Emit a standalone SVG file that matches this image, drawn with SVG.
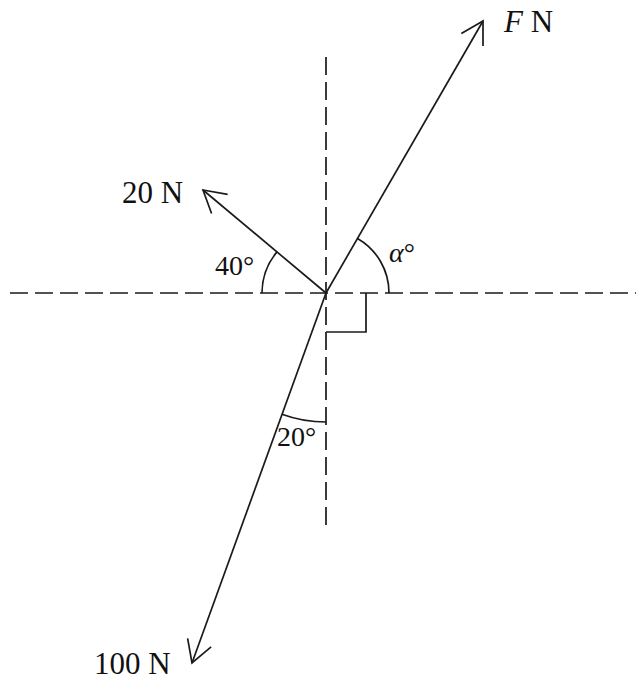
<svg xmlns="http://www.w3.org/2000/svg" width="636" height="680" viewBox="0 0 636 680">
<style>
.ln{stroke:#1a1a1a;stroke-width:1.7;fill:none}
.dash{stroke:#1a1a1a;stroke-width:1.7;fill:none;stroke-dasharray:18 7}
.lbl{font-family:"Liberation Serif","Times New Roman",serif;font-size:31px;fill:#111}
.ang{font-family:"Liberation Serif","Times New Roman",serif;font-size:28px;fill:#111}
</style>
<defs>
<marker id="arr" markerUnits="userSpaceOnUse" markerWidth="60" markerHeight="60" viewBox="-30 -30 60 60" refX="0" refY="0" orient="auto" overflow="visible">
<path d="M-21.65,-12.5 L0,0 L-21.65,12.5" fill="none" stroke="#1a1a1a" stroke-width="1.7"/>
</marker>
</defs>
<g id="axes">
<line class="dash" x1="10" y1="293" x2="636" y2="293"/>
<line class="dash" x1="326" y1="57" x2="326" y2="528"/>
</g>
<g id="connectors">
<line id="forceF" class="ln" x1="326" y1="293" x2="483" y2="21" marker-end="url(#arr)"/>
<line id="force20" class="ln" x1="326" y1="293" x2="203" y2="190" marker-end="url(#arr)"/>
<line id="force100" class="ln" x1="326" y1="293" x2="192" y2="663" marker-end="url(#arr)"/>
</g>
<g id="angles">
<path class="ln" d="M262,293 A64,64 0 0 1 277,251.9"/>
<path class="ln" d="M389,293 A63,63 0 0 0 357.5,238.4"/>
<path class="ln" d="M326,422 A129,129 0 0 1 281.9,414.2"/>
<path class="ln" d="M366,293 L366,332 L326,332"/>
</g>
<g id="labels">
<text class="lbl" x="504" y="32"><tspan font-style="italic">F</tspan> N</text>
<text class="lbl" x="122" y="203">20 N</text>
<text class="lbl" x="94" y="674">100 N</text>
<text class="ang" x="215" y="275">40°</text>
<text class="ang" x="389" y="262"><tspan font-style="italic">α</tspan>°</text>
<text class="ang" x="277" y="446">20°</text>
</g>
</svg>
